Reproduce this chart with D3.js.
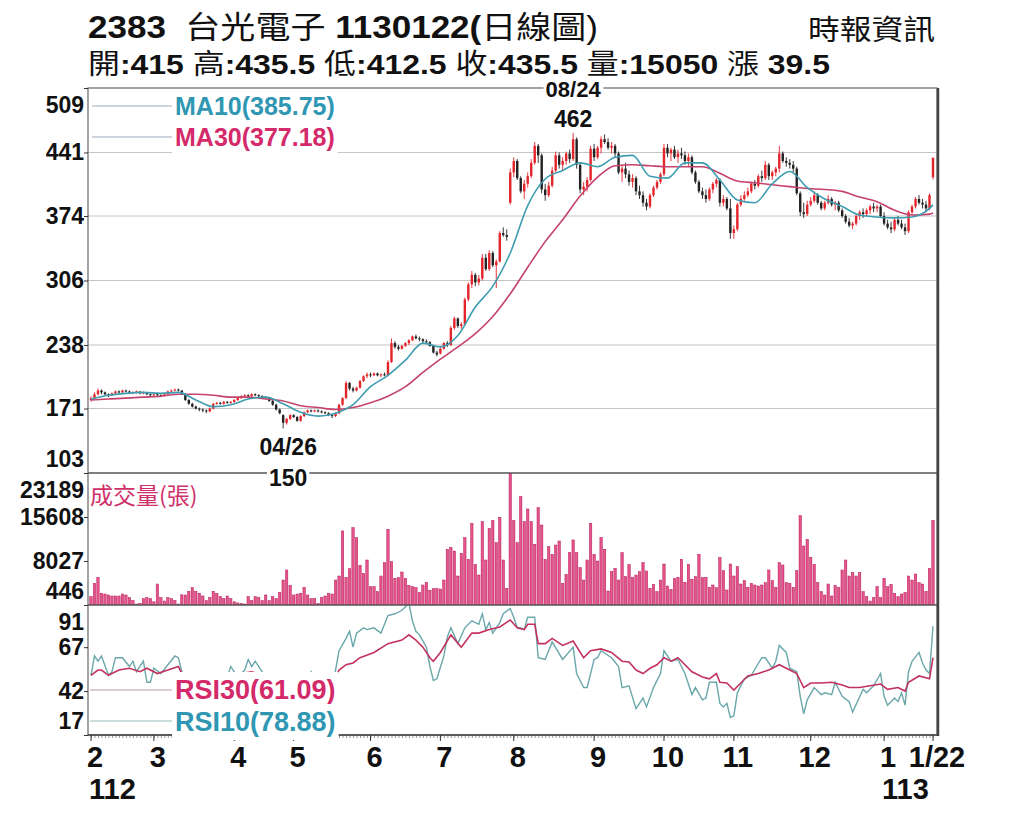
<!DOCTYPE html>
<html>
<head>
<meta charset="utf-8">
<script src="https://cdn.jsdelivr.net/npm/d3@7"></script>
<style>
  body { margin: 0; background: #fff; }
  svg { display: block; }
</style>
</head>
<body>
<div id="chart"></div>
<script>
// ---- data ----
// daily candles [open, high, low, close], 2023/02/01 .. 2024/01/22
const candles = [
  // Feb
  [180,184,178,182],[182,188,181,186],[186,192,185,190],[190,191,186,188],[188,189,185,186],[186,187,183,185],
  [185,188,184,187],[187,190,186,189],[189,190,187,188],[188,191,187,190],[190,191,188,189],[189,190,186,187],
  [187,189,186,188],[188,190,187,189],[189,189,186,187],[187,189,186,188],[188,188,185,186],[186,187,184,185],
  // Mar
  [185,187,184,186],[186,187,184,185],[185,186,183,184],[184,187,184,186],[186,190,185,189],[189,191,188,190],
  [190,192,189,191],[191,192,189,190],[190,190,186,187],[186,187,179,180],[180,181,175,176],[176,177,172,173],
  [173,174,170,171],[171,172,168,170],[170,171,167,169],[169,170,166,168],[168,172,167,171],[171,177,170,176],
  [176,178,175,177],[177,178,175,176],[176,179,175,178],[178,179,176,177],[177,179,176,178],
  // Apr
  [178,181,177,180],[180,183,179,182],[182,185,181,184],[184,186,183,185],[185,186,183,184],[184,187,183,186],
  [186,187,184,185],[185,186,183,184],[184,185,182,183],[183,184,181,182],[182,182,178,179],[179,180,174,175],
  [175,176,169,170],[170,171,165,166],[164,165,150,156],[156,161,154,160],[160,165,159,164],
  // May
  [164,165,161,162],[162,163,157,158],[158,164,157,163],[163,168,162,167],[167,170,166,169],[169,170,167,168],
  [168,170,167,169],[169,170,167,168],[168,169,166,167],[167,168,165,166],[166,167,163,164],[164,165,161,163],
  [163,167,162,166],[166,176,165,175],[175,183,174,182],[182,200,181,198],[198,199,190,192],[192,194,188,190],
  [190,194,189,193],[193,201,192,200],[200,206,199,205],[205,209,203,207],
  // Jun
  [207,209,204,206],[206,209,205,208],[208,209,205,206],[206,208,204,207],[207,209,205,206],[206,222,205,220],
  [220,245,219,240],[240,242,234,236],[236,238,232,234],[234,238,233,237],[237,241,236,240],[240,244,238,243],
  [243,248,242,247],[247,249,244,245],[245,247,242,244],[244,245,240,242],[242,244,239,241],[241,242,236,237],
  [237,238,229,230],[230,232,226,228],
  // Jul
  [229,236,228,234],[234,241,233,240],[240,242,236,238],[238,258,237,256],[256,268,254,266],[266,267,256,258],
  [258,262,255,260],[260,288,259,286],[286,304,284,302],[302,316,298,312],[312,314,300,304],[304,312,301,308],
  [308,334,306,330],[330,334,316,318],[318,338,316,335],[335,337,320,322],[322,328,298,326],[326,358,325,356],
  [356,362,352,354],[354,360,348,352],[388,424,386,420],
  // Aug
  [420,436,415,432],[432,434,412,414],[414,416,398,400],[400,412,392,408],[408,420,404,416],[416,434,414,430],
  [430,452,428,448],[448,450,430,438],[438,440,398,402],[402,408,390,396],[396,410,394,406],[406,426,404,422],
  [422,442,420,438],[438,441,424,428],[428,436,422,432],[432,442,428,440],[440,444,430,434],[434,462,432,455],
  [455,457,424,428],[428,430,398,402],[402,410,396,405],[405,415,400,412],[412,448,410,445],
  // Sep
  [445,450,432,436],[436,448,434,446],[446,458,440,455],[455,460,450,452],[452,456,444,446],[446,452,440,448],
  [448,450,436,440],[440,442,418,420],[420,428,410,424],[424,430,414,418],[418,422,406,410],[410,418,404,414],
  [414,416,396,400],[400,406,392,396],[396,400,384,388],[388,392,380,384],[384,398,382,396],[396,406,394,404],
  [404,412,402,410],[410,420,408,418],
  // Oct
  [418,450,416,446],[446,450,436,440],[440,446,432,444],[444,448,434,436],[436,444,430,440],[440,446,434,438],
  [438,442,428,432],[432,440,426,436],[436,438,418,420],[420,422,408,410],[410,412,398,400],[400,404,392,396],
  [396,402,388,392],[392,404,390,402],[402,410,398,408],[408,414,404,412],[412,414,384,388],[388,396,384,392],
  [392,394,380,382],[382,392,350,356],
  // Nov
  [356,364,350,360],[360,388,358,386],[386,396,384,392],[392,400,390,396],[396,404,394,400],[400,410,398,408],
  [408,412,402,406],[406,418,404,416],[416,422,410,414],[414,432,412,428],[428,430,412,416],[416,422,412,420],
  [420,426,416,424],[424,448,420,440],[440,442,430,432],[432,436,426,430],[430,434,424,428],[428,432,420,424],
  [424,426,396,398],[398,400,374,378],[378,388,372,376],[376,390,374,386],
  // Dec
  [386,394,384,390],[390,400,388,396],[396,398,386,388],[388,390,380,382],[382,390,380,388],[388,396,386,392],
  [392,394,384,386],[386,390,380,388],[388,390,378,380],[380,382,372,374],[374,376,366,368],[368,372,362,364],
  [364,368,360,366],[366,376,364,374],[374,380,370,378],[378,382,372,376],[376,382,374,380],[380,386,376,384],
  [384,388,378,382],[382,386,378,384],[384,386,372,374],
  // Jan
  [374,378,364,366],[366,370,360,362],[362,368,356,360],[360,372,358,370],[370,374,364,366],[366,370,360,362],
  [362,366,354,358],[358,380,356,378],[378,386,376,384],[384,394,382,392],[392,396,386,388],[388,392,382,386],
  [386,390,378,382],[382,398,380,396],[415,435.5,412.5,435.5]
];

// daily volume (張)
const volume = [
  1880,4180,5220,2460,2340,2170,2000,2000,2000,2340,2170,1710,1200,600,700,1540,1710,1540,1000,4060,
  1710,1130,1710,1540,1200,600,2200,2170,2800,3430,2800,2460,2000,1200,1710,2800,2460,1880,1540,2000,
  1540,1000,800,700,500,1880,1200,1880,1710,1200,2170,1200,1880,1540,2630,4750,6480,3830,2170,2340,
  2460,3490,2170,1540,1540,700,1710,2000,2460,2340,4750,5440,13200,5220,6700,13770,12050,7280,5910,8200,
  3600,3600,2750,5440,7740,13490,7910,5040,5160,6130,5040,3830,3600,3430,2630,3890,4350,2980,3260,3260,
  3200,4750,10040,10380,9750,5440,9350,12050,8310,14520,7450,5610,14810,8200,13660,14980,11190,15560,8200,3320,
  23189,14970,11190,19110,14810,16990,14810,10900,17220,14230,8310,10500,9180,10780,11470,4180,5730,9460,11650,9460,
  6880,4750,8200,14520,9180,8020,12100,10040,2860,6190,6770,4750,9460,5330,7400,5220,5610,6190,7740,6310,
  3320,4010,2750,4750,7510,3720,3150,5040,5220,8310,4350,7450,4870,5330,9180,5160,5220,3490,3890,3430,
  8600,6360,3030,7510,5440,7050,4060,4640,3490,4180,3890,3720,3890,4290,6480,4640,3490,7740,7340,4290,
  4180,3490,6360,15840,10610,11760,8660,7450,4290,2750,2170,4060,2000,3830,3490,6480,8200,5440,6020,5440,
  6020,2750,1880,1130,1710,3600,1710,5040,3600,4010,2460,1880,2340,2630,5440,4750,5790,4290,4060,2800,
  6770,15050
];

// moving averages [day index, value]
const ma10 = [[0,181],[5,185],[10,187],[15,188],[20,187],[25,188],[30,180],[35,173],[40,175],[45,181],
  [50,183],[55,176],[60,167],[65,163],[70,166],[75,175],[80,194],[85,206],[90,222],[95,240],[100,236],
  [105,248],[110,278],[115,300],[120,335],[125,385],[130,413],[135,422],[140,430],[145,426],[150,436],
  [155,438],[160,416],[165,414],[170,430],[175,430],[180,412],[185,391],[190,388],[195,408],[200,421],
  [205,404],[210,392],[215,384],[220,375],[225,373],[230,372],[235,373],[240,382],[241,385.75]];
const ma30 = [[0,180],[5,181],[10,182],[15,183],[20,184],[25,186],[30,186],[35,185],[40,183],[45,183],
  [50,181],[55,179],[60,174],[65,172],[70,170],[75,172],[80,177],[85,184],[90,194],[95,209],[100,223],
  [105,236],[110,250],[115,268],[120,292],[125,320],[130,347],[135,370],[140,395],[145,415],[150,427],
  [155,428],[160,427],[165,426],[170,426],[175,426],[180,419],[185,411],[190,409],[195,407],[200,405],
  [205,403],[210,402],[215,400],[220,394],[225,389],[230,380],[235,375],[240,376],[241,377.18]];

// RSI [day index, value]
const rsi10 = [[0,51],[1,62],[2,59],[3,62],[5,51],[6,53],[7,61],[9,61],[11,56],[12,59],[13,53],[15,59],
  [16,47],[17,47],[18,55],[20,52],[22,57],[24,62],[25,61],[26,53],[27,42],[29,32],[31,28],[33,26],[35,40],
  [37,45],[39,50],[40,56],[42,50],[44,54],[45,60],[46,56],[47,59],[49,53],[51,45],[53,35],[55,25],[57,32],
  [59,30],[61,42],[63,53],[65,48],[67,44],[69,44],[70,54],[71,65],[73,72],[74,76],[75,67],[76,75],[78,78],
  [79,77],[81,78],[83,75],[85,85],[87,86],[89,88],[91,92],[92,82],[93,76],[94,74],[96,67],[97,56],[98,48],
  [99,49],[101,62],[102,73],[103,78],[105,69],[107,78],[109,82],[111,80],[112,86],[113,77],[114,81],[115,75],
  [117,81],[118,86],[120,89],[121,84],[122,78],[123,78],[124,77],[125,84],[127,84],[128,61],[130,60],[132,70],
  [135,60],[138,67],[139,52],[141,44],[142,44],[144,60],[145,61],[146,65],[149,61],[151,56],[152,44],[154,45],
  [156,32],[158,38],[159,33],[161,44],[163,52],[164,65],[166,59],[168,60],[170,52],[172,40],[173,44],[175,37],
  [176,38],[177,47],[179,47],[180,35],[181,33],[182,35],[183,27],[184,28],[185,41],[187,49],[189,51],[192,61],
  [193,61],[195,55],[196,59],[197,68],[199,64],[200,55],[202,53],[203,39],[204,29],[205,37],[207,44],[209,40],
  [210,41],[212,40],[213,47],[215,39],[217,36],[218,30],[221,43],[222,41],[224,45],[226,52],[227,39],[228,34],
  [230,38],[231,36],[232,41],[233,34],[234,53],[235,59],[237,64],[238,58],[239,54],[240,52],[241,78.88]];
const rsi30 = [[0,51],[2,54],[3,54],[5,51],[8,54],[11,55],[14,53],[16,55],[19,52],[22,54],[25,56],[26,52],
  [28,46],[31,43],[34,44],[37,47],[40,50],[43,52],[46,53],[49,51],[52,46],[55,40],[58,42],[61,46],[64,48],
  [67,46],[69,45.5],[71,54],[73,57],[75,58],[77,61],[81,64],[85,69],[89,71],[91,74],[93,71],[95,67],[97,61],
  [98,59],[100,64],[103,74],[106,67],[109,75],[111,75],[114,77],[117,78.5],[120,82.5],[122,78],[124,77],
  [125,80],[127,80],[128,69],[130,69],[132,72],[135,68],[138,70.5],[141,61],[143,65],[146,66],[149,64],
  [152,59],[154,58.6],[156,54],[158,52],[160,55],[162,57],[164,61],[166,59],[168,61],[170,57],[172,53],
  [175,50],[177,49],[179,52],[180,47],[182,46.6],[184,42.6],[186,46.6],[188,50.6],[191,52],[194,54],[197,57],
  [200,54],[202,52],[204,44],[206,46.6],[209,46.6],[212,47],[215,45.5],[217,44],[220,44],[223,45],[226,46],
  [228,43],[231,44],[233,42],[234,47],[237,50.6],[240,49],[241,61.09]];

// axis ticks / labels
const priceTicks = [103, 171, 238, 306, 374, 441, 509];
const volTicks = [446, 8027, 15608, 23189];
const rsiTicks = [17, 42, 67, 91];
const monthStart = [0, 18, 41, 58, 80, 100, 121, 144, 164, 184, 206, 227, 241];
const monthLabel = ["2", "3", "4", "5", "6", "7", "8", "9", "10", "11", "12", "1", "1/22"];
const yearLabel = [[0, "112"], [227, "113"]];

// header pieces: [text, bold?]
const titleParts = [["2383 ", true], [" 台光電子 ", false], ["1130122(", true], ["日線圖", false], [")", false]];
const quoteParts = [["開", false], [":415 ", true], ["高", false], [":435.5 ", true], ["低", false], [":412.5 ", true],
  ["收", false], [":435.5 ", true], ["量", false], [":15050 ", true], ["漲", false], [" 39.5", true]];

// ---- layout ----
const W = 1024, H = 819;
const left = 88, right = 937;
const pTop = 88, pBot = 473, vBot = 605, rBot = 735;
const numFont = "'Liberation Sans', Arial, Helvetica, sans-serif";
const mixFont = "'Liberation Sans', 'Noto Sans CJK TC', 'Noto Sans CJK SC', sans-serif";
const cjkFont = "'Noto Sans CJK TC', 'Noto Sans CJK SC', sans-serif";
const red = "#e3242b", black = "#222";
const teal = "#2f97b2", pink = "#d42a6a";

const svg = d3.select("#chart").append("svg")
  .attr("width", W).attr("height", H)
  .style("background", "#fff");

// scales
const x = d3.scaleLinear().domain([0, candles.length - 1]).range([91, 933]);
const yP = d3.scaleLinear().domain([103, 509]).range([pBot, pTop]);
const yV = d3.scaleLinear().domain([446, 23189]).range([vBot, pBot]);
const yR = d3.scaleLinear().domain([17, 91]).range([rBot, vBot]);

// clip rects for the three panels
const defs = svg.append("defs");
[["clipP", pTop, pBot], ["clipV", pBot, vBot], ["clipR", vBot, rBot]].forEach(([id, t, b]) => {
  defs.append("clipPath").attr("id", id)
    .append("rect").attr("x", left).attr("y", t).attr("width", right - left).attr("height", b - t);
});

// text with white box behind it
function boxedText(g, str, xx, yy, opt) {
  const t = g.append("text")
    .attr("x", xx).attr("y", yy)
    .attr("text-anchor", opt.anchor || "start")
    .attr("font-family", opt.font || numFont)
    .attr("font-weight", opt.weight || "bold")
    .attr("font-size", opt.size)
    .attr("fill", opt.color || "#111")
    .text(str);
  const bb = t.node().getBBox();
  const pad = opt.pad || 1;
  const trim = opt.trim || 0;
  g.insert("rect", () => t.node())
    .attr("x", bb.x - pad).attr("y", bb.y - pad + trim)
    .attr("width", bb.width + pad * 2).attr("height", bb.height + pad * 2 - trim * 2)
    .attr("fill", "#fff");
  return t;
}

// ---- price panel ----
svg.append("g").selectAll("line")
  .data(priceTicks.slice(1, -1)).join("line")
  .attr("x1", left).attr("x2", right)
  .attr("y1", d => yP(d)).attr("y2", d => yP(d))
  .attr("stroke", "#c4c4c4").attr("stroke-width", 1);

const cg = svg.append("g").attr("clip-path", "url(#clipP)");
const candle = cg.selectAll("g").data(candles).join("g");
candle.append("line")
  .attr("x1", (d, i) => x(i)).attr("x2", (d, i) => x(i))
  .attr("y1", d => yP(d[1])).attr("y2", d => yP(d[2]))
  .attr("stroke", d => d[3] >= d[0] ? red : black)
  .attr("stroke-width", 0.9);
candle.append("rect")
  .attr("x", (d, i) => x(i) - 1.2).attr("width", 2.4)
  .attr("y", d => yP(Math.max(d[0], d[3])))
  .attr("height", d => Math.max(1, Math.abs(yP(d[0]) - yP(d[3]))))
  .attr("fill", d => d[3] >= d[0] ? red : black);

const maLine = d3.line().x(d => x(d[0])).y(d => yP(d[1])).curve(d3.curveMonotoneX);
cg.append("path").datum(ma30).attr("d", maLine)
  .attr("fill", "none").attr("stroke", "#c4426c").attr("stroke-width", 1.6);
cg.append("path").datum(ma10).attr("d", maLine)
  .attr("fill", "none").attr("stroke", "#3e9db0").attr("stroke-width", 1.6);

// ---- volume panel ----
svg.append("g").attr("clip-path", "url(#clipV)")
  .selectAll("rect").data(volume).join("rect")
  .attr("x", (d, i) => x(i) - 1.2).attr("width", 2.4)
  .attr("y", d => Math.min(yV(d), vBot - 1))
  .attr("height", d => Math.max(1, vBot - yV(d)))
  .attr("fill", "#e4558b").attr("stroke", "#b71857").attr("stroke-width", 0.5);

// ---- RSI panel ----
const rsiLine = d3.line().x(d => x(d[0])).y(d => yR(d[1]));
const rg = svg.append("g").attr("clip-path", "url(#clipR)");
rg.append("path").datum(rsi10).attr("d", rsiLine)
  .attr("fill", "none").attr("stroke", "#6aa7ab").attr("stroke-width", 1.4);
rg.append("path").datum(rsi30).attr("d", rsiLine)
  .attr("fill", "none").attr("stroke", "#c2325f").attr("stroke-width", 1.6);

// ---- frame ----
const frame = svg.append("g").attr("fill", "none");
frame.append("rect").attr("x", left).attr("y", pTop).attr("width", right - left).attr("height", rBot - pTop)
  .attr("stroke", "#666").attr("stroke-width", 1.2);
[pBot, vBot].forEach(v => frame.append("line").attr("x1", left).attr("x2", right)
  .attr("y1", v).attr("y2", v).attr("stroke", "#555").attr("stroke-width", 1.5));
frame.append("line").attr("x1", right + 1).attr("x2", right + 1).attr("y1", pTop).attr("y2", rBot + 1)
  .attr("stroke", "#444").attr("stroke-width", 2.5);
frame.append("line").attr("x1", left).attr("x2", right).attr("y1", rBot).attr("y2", rBot)
  .attr("stroke", "#444").attr("stroke-width", 1.5);

// ---- left axes ----
function leftAxis(scale, ticks, top, bot) {
  const g = svg.append("g").attr("transform", `translate(${left},0)`)
    .call(d3.axisLeft(scale).tickValues(ticks).tickSize(4).tickSizeOuter(0).tickFormat(d3.format("d")));
  g.select(".domain").remove();
  g.selectAll(".tick line").attr("stroke", "#333");
  g.selectAll(".tick text")
    .attr("font-family", numFont).attr("font-weight", "bold").attr("font-size", 23)
    .attr("fill", "#111").attr("x", -4)
    .attr("y", d => {
      const yy = scale(d);
      return Math.min(Math.max(yy, top + 17), bot - 14) - yy;
    });
}
leftAxis(yP, priceTicks, pTop, pBot);
leftAxis(yV, volTicks, pBot, vBot);
leftAxis(yR, rsiTicks, vBot, rBot);

// ---- bottom axis ----
const xa = svg.append("g").attr("transform", `translate(0,${rBot})`)
  .call(d3.axisBottom(x).tickValues(d3.range(candles.length)).tickSize(3).tickFormat(""));
xa.select(".domain").remove();
xa.selectAll(".tick line").attr("stroke", "#555").attr("stroke-width", 0.6);
svg.append("g").selectAll("line").data(monthStart).join("line")
  .attr("x1", d => x(d)).attr("x2", d => x(d))
  .attr("y1", rBot).attr("y2", rBot + 6)
  .attr("stroke", "#333").attr("stroke-width", 1);
svg.append("g").selectAll("text").data(monthStart).join("text")
  .attr("x", d => x(d) + 4).attr("y", 767)
  .attr("text-anchor", "middle")
  .attr("font-family", numFont).attr("font-weight", "bold").attr("font-size", 29)
  .attr("fill", "#111")
  .text((d, i) => monthLabel[i]);
svg.append("g").selectAll("text").data(yearLabel).join("text")
  .attr("x", d => x(d[0]) - 2).attr("y", 799)
  .attr("font-family", numFont).attr("font-weight", "bold").attr("font-size", 29)
  .attr("fill", "#111")
  .text(d => d[1]);

// ---- legends ----
const lg = svg.append("g");
[[106, "MA10(385.75)", teal, 115], [137, "MA30(377.18)", pink, 146]].forEach(([ly, txt, col, ty]) => {
  lg.append("line").attr("x1", 92).attr("x2", 175).attr("y1", ly).attr("y2", ly)
    .attr("stroke", "#9ab").attr("stroke-width", 1);
  boxedText(lg, txt, 175, ty, { size: 25, color: col, pad: 3 });
});
boxedText(lg, "成交量(張)", 90, 504, { size: 23, color: "#d0306a", font: cjkFont, weight: "normal" });
[[690, "RSI30(61.09)", pink, 699, "#b9a"], [721, "RSI10(78.88)", teal, 731, "#9bb"]].forEach(([ly, txt, col, ty, lc]) => {
  lg.append("line").attr("x1", 90).attr("x2", 175).attr("y1", ly).attr("y2", ly)
    .attr("stroke", lc).attr("stroke-width", 1);
  boxedText(lg, txt, 175, ty, { size: 27, color: col, pad: 3 });
});

// ---- high / low notes ----
const hiIdx = 138, loIdx = 55;
boxedText(svg, "08/24", x(hiIdx), 97, { size: 22, anchor: "middle", pad: 2, trim: 3 });
boxedText(svg, "462", x(hiIdx), 127, { size: 23, anchor: "middle", pad: 1 });
boxedText(svg, "04/26", x(loIdx) + 5, 455, { size: 23, anchor: "middle", pad: 1 });
boxedText(svg, "150", x(loIdx) + 5, 486, { size: 23, anchor: "middle", pad: 2 });

// ---- header ----
function partsText(parts, xx, yy, size, width) {
  const t = svg.append("text").attr("x", xx).attr("y", yy)
    .attr("font-family", mixFont).attr("font-size", size).attr("fill", "#111")
    .attr("textLength", width).attr("lengthAdjust", "spacingAndGlyphs")
    .attr("xml:space", "preserve");
  t.selectAll("tspan").data(parts).join("tspan")
    .attr("font-weight", d => d[1] ? "bold" : "normal")
    .text(d => d[0]);
}
partsText(titleParts, 88, 38, 31, 510);
svg.append("text").attr("x", 808).attr("y", 40)
  .attr("font-family", cjkFont).attr("font-size", 28)
  .attr("fill", "#111").attr("textLength", 127).attr("lengthAdjust", "spacingAndGlyphs")
  .text("時報資訊");
partsText(quoteParts, 88, 74, 28, 742);
</script>
</body>
</html>
